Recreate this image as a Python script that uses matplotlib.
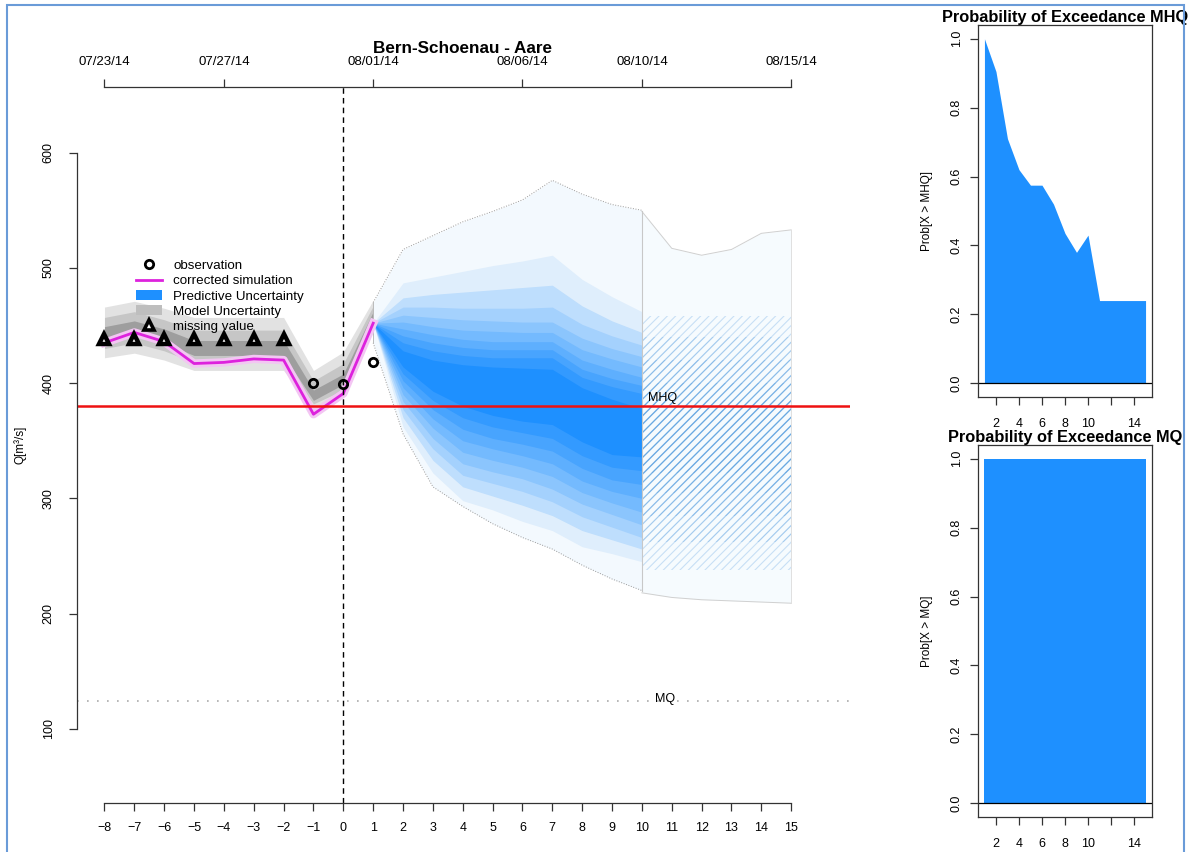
import numpy as np
import matplotlib.pyplot as plt
from matplotlib.patches import Rectangle, Patch
from matplotlib.lines import Line2D
from matplotlib.colors import to_rgb

plt.rcParams['font.family'] = ['Liberation Sans', 'DejaVu Sans']
plt.rcParams['hatch.linewidth'] = 0.8

# ---- hindcast part (lead -8 .. 1) ----
hind_x = [-8, -7, -6, -5, -4, -3, -2, -1, 0, 1]
sim = [435, 444, 436, 417, 418, 421, 420, 373, 391, 452]
mod_out_hi = [466, 471, 465, 457, 457, 457, 457, 411, 427, 472]
mod_out_lo = [422, 426, 420, 411, 411, 411, 411, 378, 390, 447]
mod_mid_hi = [457, 462, 455, 446, 446, 446, 446, 402, 417, 467]
mod_mid_lo = [430, 435, 428, 418, 418, 418, 418, 382, 394, 450]
mod_core_hi = [449, 454, 447, 437, 437, 437, 437, 394, 408, 462]
mod_core_lo = [437, 442, 435, 424, 424, 424, 424, 385, 399, 454]

miss_x = [-8, -7, -6, -5, -4, -3, -2]
miss_q = [438, 438, 438, 438, 438, 438, 438]
obs_x = [-1, 0, 1]
obs_q = [400, 399, 418]

# ---- forecast part (lead 1 .. 10) ----
fc_x = [1, 2, 3, 4, 5, 6, 7, 8, 9, 10]
env_hi = [470, 516, 528, 540, 549, 559, 576, 564, 555, 550]
env_lo = [435, 356, 310, 293, 278, 266, 256, 242, 230, 220]
# quantile band edges, outermost first
band_hi = [
    [452, 487, 492, 497, 502, 506, 511, 490, 475, 462],
    [452, 474, 477, 479, 481, 483, 485, 467, 454, 444],
    [452, 466, 466, 465, 465, 465, 466, 451, 441, 433],
    [452, 459, 457, 455, 454, 453, 453, 439, 430, 423],
    [452, 453, 449, 446, 445, 444, 444, 429, 421, 414],
    [452, 447, 442, 438, 436, 436, 436, 420, 412, 405],
    [452, 441, 435, 431, 429, 429, 429, 412, 404, 398],
    [452, 435, 428, 424, 422, 422, 422, 405, 397, 391],
    [452, 428, 420, 416, 414, 413, 412, 396, 386, 378],
]
band_lo = [
    [452, 362, 322, 298, 290, 280, 272, 258, 252, 245],
    [452, 370, 333, 310, 302, 294, 285, 272, 264, 256],
    [452, 377, 343, 320, 313, 306, 297, 284, 275, 266],
    [452, 384, 352, 330, 323, 317, 308, 295, 286, 277],
    [452, 390, 361, 340, 333, 327, 319, 305, 296, 288],
    [452, 396, 369, 350, 343, 337, 330, 315, 306, 300],
    [452, 402, 377, 360, 352, 347, 341, 326, 316, 312],
    [452, 408, 385, 370, 362, 357, 352, 337, 327, 324],
    [452, 414, 393, 380, 372, 367, 364, 349, 338, 336],
]

# ---- extended forecast (lead 10 .. 15) ----
ext_x = [10, 11, 12, 13, 14, 15]
ext_hi = [549, 517, 511, 516, 530, 533]
ext_lo = [218, 214, 212, 211, 210, 209]
hatch_x = [10, 15]
hatch_hi = [458, 440, 420, 400, 385]
hatch_lo = [238, 262, 285, 305, 322]

MHQ = 380
MQ = 124

date_pos = [-8, -4, 1, 6, 10, 15]
date_lab = ['07/23/14', '07/27/14', '08/01/14', '08/06/14', '08/10/14', '08/15/14']

# ---- exceedance probabilities ----
days = [1, 2, 3, 4, 5, 6, 7, 8, 9, 10, 11, 12, 13, 14, 15]
p_mhq = [1.0, 0.905, 0.71, 0.62, 0.575, 0.575, 0.52, 0.435, 0.38, 0.43, 0.24, 0.24, 0.24, 0.24, 0.24]
p_mq = [1.0, 1.0, 1.0, 1.0, 1.0, 1.0, 1.0, 1.0, 1.0, 1.0, 1.0, 1.0, 1.0, 1.0, 1.0]

blue = '#1e90ff'
axcol = '#333333'

fig = plt.figure(figsize=(11.89, 8.52), dpi=100)
ax = fig.add_axes([77 / 1189, 1 - 803 / 852, (850 - 77) / 1189, (803 - 87) / 852])
ax.set_xlim(-8.92, 16.97)
ax.set_ylim(35.6, 657)

# envelope of forecast
ax.fill_between(fc_x, env_lo, env_hi, color='#f3f9fe', lw=0)
ax.plot(fc_x, env_hi, color='#9a9a9a', lw=0.7, ls=':')
ax.plot(fc_x, env_lo, color='#9a9a9a', lw=0.7, ls=':')
ax.plot([1, 1], [env_lo[0], env_hi[0]], color='#bbbbbb', lw=0.7)

c0 = np.array(to_rgb('#dfeefc'))
c1 = np.array(to_rgb(blue))
nb = len(band_hi)
for i in range(nb):
    f = (i / (nb - 1)) ** 0.85
    col = c0 + (c1 - c0) * f
    ax.fill_between(fc_x, band_lo[i], band_hi[i], color=col, lw=0)

# extended period
ax.fill_between(ext_x, ext_lo, ext_hi, color='#f6fbfe', lw=0)
ax.plot(ext_x, ext_hi, color='#d0d0d0', lw=0.7)
ax.plot(ext_x, ext_lo, color='#d0d0d0', lw=0.7)
ax.plot([15, 15], [ext_lo[-1], ext_hi[-1]], color='#e0e0e0', lw=0.7)
ax.plot([10, 10], [env_lo[-1], ext_hi[0]], color='#c8c8c8', lw=0.8)
for i in range(len(hatch_hi)):
    ax.fill_between(hatch_x, hatch_lo[i], hatch_hi[i], facecolor='none',
                    edgecolor=(0.25, 0.57, 0.86, 0.26), hatch='////', lw=0)

# model uncertainty
ax.fill_between(hind_x, mod_out_lo, mod_out_hi, color='#e2e2e2', lw=0)
ax.fill_between(hind_x, mod_mid_lo, mod_mid_hi, color='#c6c6c6', lw=0)
ax.fill_between(hind_x, mod_core_lo, mod_core_hi, color='#9e9e9e', lw=0)

ax.plot(hind_x, sim, color='#f3c6f3', lw=6, solid_joinstyle='round')
ax.plot(hind_x, sim, color='#dd22dd', lw=2)

ax.axvline(0, color='black', lw=1, ls=(0, (4, 3)))
ax.axhline(MHQ, color='#ee1111', lw=1.8)
ax.axhline(MQ, color='#aaaaaa', lw=1.2, ls=(0, (1, 5)))
ax.text(10.2, MHQ + 2, 'MHQ', fontsize=9, ha='left', va='bottom')
ax.text(10.45, MQ + 2, 'MQ', fontsize=9, ha='left', va='center')

ax.plot(miss_x, miss_q, ls='none', marker='^', ms=7.5, mfc='white', mec='black', mew=3.2)
ax.plot(obs_x, obs_q, ls='none', marker='o', ms=6, mfc='none', mec='black', mew=2)

handles = [
    Line2D([], [], ls='none', marker='o', ms=6, mfc='none', mec='black', mew=2),
    Line2D([], [], color='#dd22dd', lw=2),
    Patch(facecolor=blue, edgecolor='none'),
    Patch(facecolor='#bebebe', edgecolor='none'),
    Line2D([], [], ls='none', marker='^', ms=7, mfc='white', mec='black', mew=2.6),
]
labels = ['observation', 'corrected simulation', 'Predictive Uncertainty',
          'Model Uncertainty', 'missing value']
ax.legend(handles, labels, loc='upper left', bbox_to_anchor=(129 / 1189, 1 - 253 / 852),
          bbox_transform=fig.transFigure, frameon=False, fontsize=9.6,
          handlelength=2.0, labelspacing=0.22, handletextpad=0.8, borderpad=0)

for s in ['top', 'right']:
    ax.spines[s].set_visible(False)
ax.spines['left'].set_bounds(100, 600)
ax.spines['bottom'].set_bounds(-8, 15)
for s in ['left', 'bottom']:
    ax.spines[s].set_color(axcol)
    ax.spines[s].set_linewidth(0.9)
ax.set_xticks(range(-8, 16))
ax.set_yticks([100, 200, 300, 400, 500, 600])
ax.tick_params(axis='both', direction='out', length=6, width=0.9, color=axcol, labelsize=9)
ax.tick_params(axis='x', pad=8)
ax.tick_params(axis='y', pad=10, labelrotation=90)
for t in ax.get_yticklabels():
    t.set_va('center')
ax.set_ylabel('Q[m³/s]', fontsize=8.5, labelpad=12)

ax2 = ax.twiny()
ax2.set_xlim(ax.get_xlim())
for s in ['left', 'right', 'bottom']:
    ax2.spines[s].set_visible(False)
ax2.spines['top'].set_bounds(-8, 15)
ax2.spines['top'].set_color(axcol)
ax2.spines['top'].set_linewidth(0.9)
ax2.set_xticks(date_pos)
ax2.set_xticklabels(date_lab)
ax2.tick_params(axis='x', direction='out', length=6, width=0.9, color=axcol, labelsize=9.5, pad=8)
ax2.set_title('Bern-Schoenau - Aare', fontsize=12.3, fontweight='bold', pad=1,
              x=(463 - 77) / (850 - 77))


def prob_panel(rect, vals, title, ylab):
    a = fig.add_axes(rect)
    a.fill_between(days, 0, vals, color=blue, lw=0)
    a.axhline(0, color='black', lw=0.9)
    a.set_xlim(0.44, 15.56)
    a.set_ylim(-0.04, 1.04)
    a.set_xticks([2, 4, 6, 8, 10, 12, 14])
    a.set_xticklabels(['2', '4', '6', '8', '10', '', '14'])
    a.set_yticks([0, 0.2, 0.4, 0.6, 0.8, 1.0])
    a.set_yticklabels(['0.0', '0.2', '0.4', '0.6', '0.8', '1.0'])
    a.tick_params(axis='both', direction='out', length=6, width=0.9, color=axcol, labelsize=9)
    a.tick_params(axis='x', pad=9)
    a.tick_params(axis='y', labelrotation=90, pad=5)
    for t in a.get_yticklabels():
        t.set_va('center')
    for s in a.spines.values():
        s.set_color(axcol)
        s.set_linewidth(0.9)
    a.set_title(title, fontsize=11.8, fontweight='bold', pad=2)
    a.set_ylabel(ylab, fontsize=8.5, labelpad=13)
    return a


prob_panel([978 / 1189, 1 - 397 / 852, 174 / 1189, 372 / 852], p_mhq,
           'Probability of Exceedance MHQ', 'Prob[X > MHQ]')
prob_panel([978 / 1189, 1 - 817 / 852, 174 / 1189, 372 / 852], p_mq,
           'Probability of Exceedance MQ', 'Prob[X > MQ]')

fig.patches.append(Rectangle((7 / 1189, -0.01), 1177 / 1189, 1.01 - 5 / 852,
                             transform=fig.transFigure, fill=False,
                             edgecolor='#6a9bd8', lw=1.5))

fig.savefig('out.png', dpi=100)
